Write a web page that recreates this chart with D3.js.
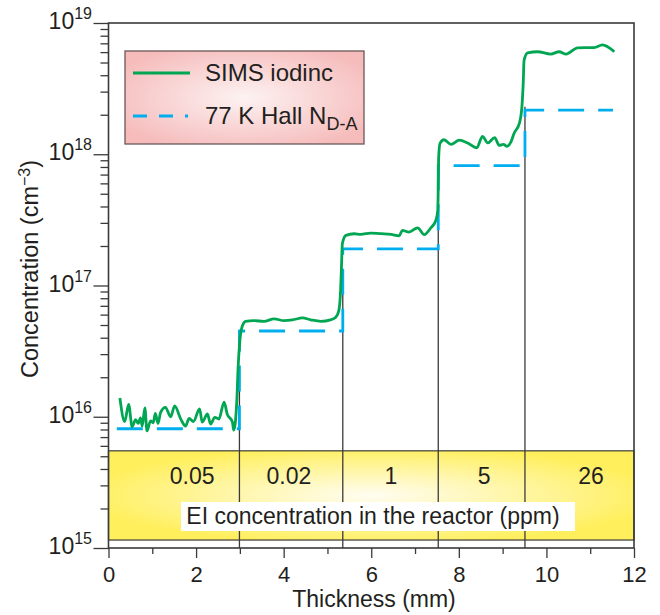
<!DOCTYPE html>
<html>
<head>
<meta charset="utf-8">
<script src="https://cdn.jsdelivr.net/npm/d3@7"></script>
<style>
  body { margin: 0; background: #fff; }
  text { font-family: "Liberation Sans", Arial, Helvetica, sans-serif; fill: #231f20; }
</style>
</head>
<body>
<svg id="chart" width="660" height="615"></svg>
<script>
// SIMS iodine profile: thickness (mm) and concentration (cm^-3)
var simsX = [0.26, 0.37, 0.46, 0.54, 0.62, 0.68, 0.73, 0.77, 0.83, 0.88, 0.96, 1.02, 1.07, 1.13, 1.19,
  1.30, 1.42, 1.51, 1.65, 1.76, 1.84, 1.94, 2.08, 2.14, 2.26, 2.33, 2.43, 2.52, 2.64, 2.71, 2.83,
  2.86, 2.93, 2.96, 3.00, 3.06, 3.13, 3.32, 3.55, 3.78, 4.01, 4.20, 4.43, 4.62, 4.85, 5.07, 5.19,
  5.26, 5.30, 5.32, 5.34, 5.42, 5.61, 5.76, 5.99, 6.22, 6.45, 6.64, 6.71, 6.86, 7.06, 7.21, 7.36,
  7.47, 7.52, 7.53, 7.54, 7.57, 7.66, 7.82, 8.01, 8.20, 8.41, 8.54, 8.66, 8.82, 8.92, 9.02, 9.10,
  9.19, 9.26, 9.38, 9.44, 9.47, 9.49, 9.57, 9.80, 10.10, 10.29, 10.45, 10.71, 11.09, 11.28, 11.55];
var simsY = [1.39e16, 9.2e15, 1.24e16, 8.4e15, 9.5e15, 8.9e15, 9.8e15, 8.5e15, 1.17e16, 7.8e15, 9.3e15,
  9.0e15, 1.06e16, 8.9e15, 1.08e16, 1.18e16, 1.0e16, 1.21e16, 9.6e15, 8.5e15, 9.7e15, 9.2e15, 1.15e16,
  9.1e15, 1.05e16, 8.8e15, 9.9e15, 9.6e15, 1.29e16, 1.05e16, 9.1e15, 7.9e15, 1.32e16, 2.38e16, 3.8e16,
  4.96e16, 5.33e16, 5.4e16, 5.33e16, 5.57e16, 5.4e16, 5.47e16, 5.66e16, 5.47e16, 5.33e16, 5.47e16,
  5.73e16, 6.44e16, 9.2e16, 1.38e17, 2.08e17, 2.41e17, 2.48e17, 2.45e17, 2.51e17, 2.48e17, 2.45e17,
  2.39e17, 2.63e17, 2.55e17, 2.75e17, 2.44e17, 2.75e17, 3.1e17, 3.74e17, 5.6e17, 9.5e17, 1.21e18,
  1.29e18, 1.19e18, 1.28e18, 1.22e18, 1.12e18, 1.37e18, 1.22e18, 1.34e18, 1.17e18, 1.19e18, 1.15e18,
  1.24e18, 1.44e18, 1.71e18, 2.3e18, 3.47e18, 5.2e18, 5.93e18, 6.04e18, 5.8e18, 6.04e18, 5.8e18,
  6.47e18, 6.5e18, 6.82e18, 6.04e18];

// 77 K Hall N_D-A, one level per growth segment
var hallX = [0.19, 2.99, 5.35, 7.53, 9.51, 11.52];
var hallY = [8.1e15, 4.5e16, 1.9e17, 8.2e17, 2.17e18, 2.17e18];

// segment boundaries and EI concentration in the reactor (ppm)
var bounds = [2.99, 5.35, 7.53, 9.51];
var boundTops = [1.97e16, 1.0e17, 6.3e17, 2.3e18];
var eiLabels = ["0.05", "0.02", "1", "5", "26"];
var eiLabelX = [1.91, 4.12, 6.45, 8.58, 11.02];

var xTicks = d3.range(0, 13);
var yDecades = [15, 16, 17, 18, 19];

var svg = d3.select("#chart");
var mLeft = 108.5, mRight = 634, mTop = 23, mBottom = 548;

var x = d3.scaleLinear().domain([0, 12]).range([mLeft, mRight]);
var y = d3.scaleLog().domain([1e15, 1e19]).range([mBottom, mTop]);

var green = "#00a651", blue = "#00aeef", ink = "#3a3a3a";

var defs = svg.append("defs");
var yg = defs.append("radialGradient").attr("id", "yellowGrad")
  .attr("cx", "0.5").attr("cy", "0.5").attr("r", "0.55");
yg.append("stop").attr("offset", "0%").attr("stop-color", "#fffdf2");
yg.append("stop").attr("offset", "100%").attr("stop-color", "#ffef5c");
var pg = defs.append("radialGradient").attr("id", "pinkGrad")
  .attr("cx", "0.5").attr("cy", "0.5").attr("r", "0.6");
pg.append("stop").attr("offset", "0%").attr("stop-color", "#fdf2f2");
pg.append("stop").attr("offset", "100%").attr("stop-color", "#f6bcbc");

// yellow band with reactor concentrations
var bandTop = y(5.5e15), bandBottom = y(1.15e15);
svg.append("rect")
  .attr("x", mLeft).attr("y", bandTop)
  .attr("width", mRight - mLeft).attr("height", bandBottom - bandTop)
  .attr("fill", "url(#yellowGrad)")
  .attr("stroke", ink).attr("stroke-width", 1.2);

// boundary lines
svg.selectAll(".bound")
  .data(bounds)
  .enter()
  .append("line")
  .attr("class", "bound")
  .attr("x1", function (d) { return x(d); })
  .attr("x2", function (d) { return x(d); })
  .attr("y1", mBottom)
  .attr("y2", function (d, i) { return y(boundTops[i]); })
  .attr("stroke", ink).attr("stroke-width", 1.3);

svg.append("rect")
  .attr("x", 181).attr("y", 502).attr("width", 394).attr("height", 29)
  .attr("fill", "#fff");
svg.append("text")
  .attr("x", 373).attr("y", 524)
  .attr("text-anchor", "middle")
  .style("font-size", "23px")
  .text("EI concentration in the reactor (ppm)");

svg.selectAll(".eilab")
  .data(eiLabels)
  .enter()
  .append("text")
  .attr("class", "eilab")
  .attr("x", function (d, i) { return x(eiLabelX[i]); })
  .attr("y", 484)
  .attr("text-anchor", "middle")
  .style("font-size", "23px")
  .text(function (d) { return d; });

// Hall steps
var hallPts = hallX.map(function (d, i) { return [d, hallY[i]]; });
var stepLine = d3.line()
  .x(function (d) { return x(d[0]); })
  .y(function (d) { return y(d[1]); })
  .curve(d3.curveStepAfter);
svg.append("path")
  .datum(hallPts)
  .attr("d", stepLine)
  .attr("fill", "none")
  .attr("stroke", blue).attr("stroke-width", 2.8)
  .attr("stroke-dasharray", "26,14");

// SIMS profile
var simsPts = simsX.map(function (d, i) { return [d, simsY[i]]; });
var simsLine = d3.line()
  .x(function (d) { return x(d[0]); })
  .y(function (d) { return y(d[1]); })
  .curve(d3.curveMonotoneX);
svg.append("path")
  .datum(simsPts)
  .attr("d", simsLine)
  .attr("fill", "none")
  .attr("stroke", green).attr("stroke-width", 2.8)
  .attr("stroke-linejoin", "round");

// frame
svg.append("rect")
  .attr("x", mLeft).attr("y", mTop)
  .attr("width", mRight - mLeft).attr("height", mBottom - mTop)
  .attr("fill", "none")
  .attr("stroke", ink).attr("stroke-width", 1.6);

// x axis
var xAxis = svg.append("g")
  .attr("transform", "translate(0," + mBottom + ")")
  .call(d3.axisBottom(x).tickValues(xTicks).tickSize(10)
    .tickFormat(function (d) { return d % 2 === 0 ? d : ""; }));
xAxis.select(".domain").remove();
xAxis.selectAll(".tick line")
  .attr("stroke", ink).attr("stroke-width", 1.3)
  .attr("y2", function (d) { return d % 2 === 0 ? 10 : 6; });
xAxis.selectAll(".tick text")
  .attr("y", 34).attr("dy", null)
  .style("font-size", "22px")
  .style("font-family", "'Liberation Sans', Arial, sans-serif")
  .attr("fill", "#231f20");

// y axis, log ticks
var yTickVals = [];
yDecades.forEach(function (e) {
  var base = Math.pow(10, e);
  if (e < 19) {
    for (var k = 1; k <= 9; k++) yTickVals.push(k * base);
  } else {
    yTickVals.push(base);
  }
});
var yAxis = svg.append("g")
  .attr("transform", "translate(" + mLeft + ",0)")
  .call(d3.axisLeft(y).tickValues(yTickVals).tickSize(8).tickFormat(""));
yAxis.select(".domain").remove();
yAxis.selectAll(".tick line")
  .attr("stroke", ink).attr("stroke-width", 1.3)
  .attr("x2", function (d) {
    var m = d / Math.pow(10, Math.floor(Math.log10(d) + 1e-9));
    return Math.abs(m - 1) < 1e-6 ? -15 : -8;
  });

var ylab = svg.selectAll(".ylab")
  .data(yDecades)
  .enter()
  .append("text")
  .attr("class", "ylab")
  .attr("x", 92)
  .attr("y", function (d) { return y(Math.pow(10, d)) + 6; })
  .attr("text-anchor", "end")
  .style("font-size", "23px");
ylab.append("tspan").text("10");
ylab.append("tspan")
  .attr("dy", -10)
  .style("font-size", "16px")
  .text(function (d) { return d; });

// axis titles
svg.append("text")
  .attr("x", 374).attr("y", 607)
  .attr("text-anchor", "middle")
  .style("font-size", "23px")
  .text("Thickness (mm)");

var yt = svg.append("text")
  .attr("transform", "translate(38,269) rotate(-90)")
  .attr("text-anchor", "middle")
  .style("font-size", "23.5px");
yt.append("tspan").text("Concentration (cm");
yt.append("tspan").attr("dy", -8).style("font-size", "16px").text("\u22123");
yt.append("tspan").attr("dy", 8).text(")");

// legend
var lg = svg.append("g");
lg.append("rect")
  .attr("x", 125).attr("y", 51).attr("width", 239).attr("height", 93)
  .attr("fill", "url(#pinkGrad)")
  .attr("stroke", "#6b5656").attr("stroke-width", 1.3);
lg.append("line")
  .attr("x1", 133).attr("x2", 190).attr("y1", 73).attr("y2", 73)
  .attr("stroke", green).attr("stroke-width", 2.8);
lg.append("text")
  .attr("x", 205).attr("y", 81)
  .style("font-size", "24px")
  .text("SIMS iodinc");
lg.append("line")
  .attr("x1", 133).attr("x2", 188).attr("y1", 116).attr("y2", 116)
  .attr("stroke", blue).attr("stroke-width", 2.8)
  .attr("stroke-dasharray", "14,12");
var ht = lg.append("text")
  .attr("x", 205).attr("y", 124)
  .style("font-size", "24px");
ht.append("tspan").text("77 K Hall N");
ht.append("tspan").attr("dy", 6).style("font-size", "18px").text("D-A");
</script>
</body>
</html>
